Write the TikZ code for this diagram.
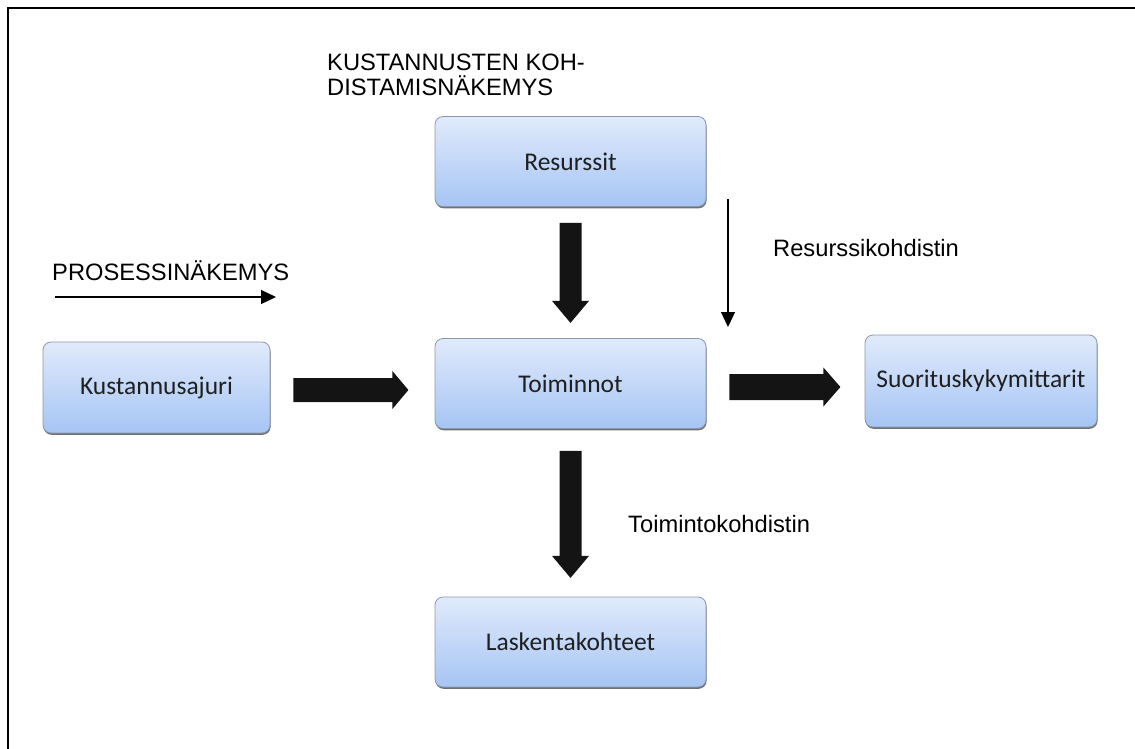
\documentclass[tikz,border=0pt]{standalone}
\usepackage{fontspec}
\setmainfont{Liberation Sans}
\newfontfamily\boxfont{Carlito}
\usetikzlibrary{arrows.meta,calc,shadows}

\definecolor{boxtop}{HTML}{E0EAFB}
\definecolor{boxbot}{HTML}{A6C5F4}
\definecolor{boxline}{HTML}{8A98AC}
\definecolor{arrowblack}{HTML}{141414}

% Block arrow: #1 start point, #2 rotation, #3 total length,
% #4 half shaft width, #5 half head width, #6 head length
\newcommand\fatarrow[6]{%
  \fill[arrowblack, shift={#1}, rotate=#2]
    (0,-#4) -- ({#3-#6},-#4) -- ({#3-#6},-#5) -- (#3,0)
    -- ({#3-#6},#5) -- ({#3-#6},#4) -- (0,#4) -- cycle;}

\begin{document}
\begin{tikzpicture}[x=1pt,y=-1pt,
  stage/.style={draw=boxline, line width=0.8pt, rounded corners=8pt,
    top color=boxtop, bottom color=boxbot,
    minimum width=271pt, minimum height=90pt, inner sep=0pt,
    font=\boxfont\fontsize{25.5}{30}\selectfont, text=black!88,
    drop shadow={shadow xshift=0.6pt, shadow yshift=-1.8pt, opacity=0.75, fill=black!75}},
  note/.style={font=\fontsize{23.7}{25}\selectfont, inner sep=0pt, text=black},
  thin/.style={line width=1.3pt, -{Triangle[length=15pt,width=14pt]}}
]
\useasboundingbox (0,0) rectangle (1135,749);

% frame
\draw[line width=2pt] (1135,8) -- (8,8) -- (8,749);

% blocks
\node[stage] (res) at (570.5,161.5) {Resurssit};
\node[stage] (toim) at (570.5,383.5) {Toiminnot};
\node[stage, minimum width=227pt, minimum height=91pt] (kust) at (156.5,387.5) {Kustannusajuri};
\node[stage, minimum width=232pt, minimum height=92pt] (suor) at (981,381) {Suorituskykymittarit};
\node[stage] (lask) at (570.5,642) {Laskentakohteet};

% block arrows between the stages
\fatarrow{($(res.south)+(0,16)$)}{-90}{100}{11}{18.5}{22}
\fatarrow{($(kust.east)+(23,2.5)$)}{0}{115}{12}{19}{16}
\fatarrow{($(toim.east)+(23,3.5)$)}{0}{111}{13}{19.5}{17}
\fatarrow{($(toim.south)+(0,22)$)}{-90}{127}{11}{18.5}{22}

% view labels and thin arrows
\node[note, anchor=north west, align=left] (costview) at (327,54)
  {KUSTANNUSTEN KOH-\\DISTAMISNÄKEMYS};
\node[note, anchor=base west] (procview) at (52,280) {PROSESSINÄKEMYS};
\coordinate (p1) at (55,297);
\coordinate (p2) at (276,297);
\draw[thin] (p1) -- (p2);

\coordinate (r1) at (728,199);
\coordinate (r2) at (728,327);
\draw[thin] (r1) -- (r2);
\node[note, anchor=base west] (resdrv) at (773,256) {Resurssikohdistin};
\node[note, anchor=base west] (actdrv) at (628,532) {Toimintokohdistin};
\end{tikzpicture}
\end{document}
